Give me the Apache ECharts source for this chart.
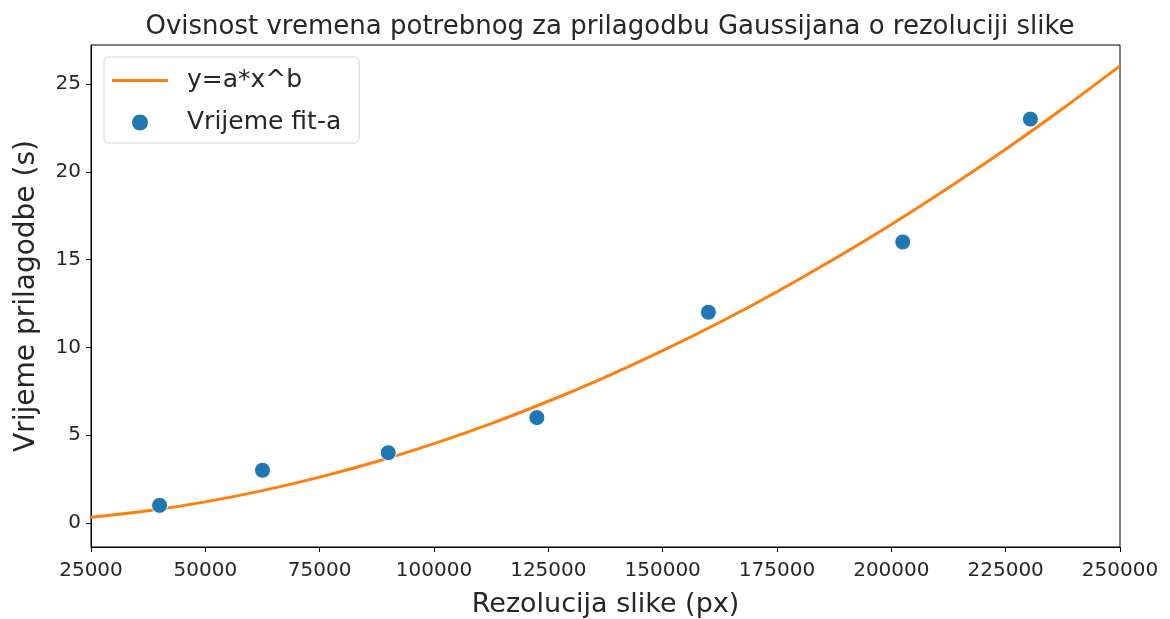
<!DOCTYPE html>
<html>
<head>
<meta charset="utf-8">
<script src="https://cdn.jsdelivr.net/npm/echarts@6/dist/echarts.min.js"></script>
<style>
  html, body { margin: 0; padding: 0; background: #fff; }
  #chart { width: 1170px; height: 619px; }
</style>
</head>
<body>
<div id="chart"></div>
<script>
// Measured fit times per image size (pixels) and the fitted power-law curve y=a*x^b
const resolutions = [40000, 62500, 90000, 122500, 160000, 202500, 230400];
const fitTimes = [1, 3, 4, 6, 12, 16, 23];

const curveX = [25000, 37500, 50000, 62500, 75000, 87500, 100000, 112500, 125000, 137500,
                150000, 162500, 175000, 187500, 200000, 212500, 225000, 237500, 250000];
const curveY = [0.32, 0.69, 1.20, 1.84, 2.61, 3.50, 4.52, 5.66, 6.93, 8.31,
                9.81, 11.43, 13.17, 15.03, 17.00, 19.09, 21.28, 23.60, 26.03];

const xTicks = [25000, 50000, 75000, 100000, 125000, 150000, 175000, 200000, 225000, 250000];
const yTicks = [0, 5, 10, 15, 20, 25];

const FONT = 'DejaVu Sans';
const TXT = '#262626';
const ORANGE = '#ff7f0e';
const BLUE = '#1f77b4';

const chart = echarts.init(document.getElementById('chart'), null, { renderer: 'canvas' });

chart.setOption({
  animation: false,
  backgroundColor: '#ffffff',
  textStyle: { fontFamily: FONT },
  title: {
    text: 'Ovisnost vremena potrebnog za prilagodbu Gaussijana o rezoluciji slike',
    left: 605,
    textAlign: 'center',
    top: 9,
    textStyle: { fontFamily: FONT, fontSize: 26, fontWeight: 'normal', color: TXT }
  },
  legend: {
    orient: 'vertical',
    left: 104,
    top: 57,
    padding: [11, 18, 8, 8],
    itemGap: 17,
    itemWidth: 56,
    itemHeight: 16,
    borderColor: '#d6d6d6',
    borderWidth: 1,
    borderRadius: 5,
    backgroundColor: 'rgba(255,255,255,0.8)',
    textStyle: { fontFamily: FONT, fontSize: 25, color: TXT, padding: [0, 0, 0, 14] },
    data: [
      { name: 'y=a*x^b', icon: 'path://M0,0H56V3H0Z', itemStyle: { color: ORANGE }, lineStyle: { width: 0 } },
      { name: 'Vrijeme fit-a', icon: 'circle', itemStyle: { color: BLUE, borderWidth: 0 } }
    ]
  },
  grid: {
    left: 91,
    right: 50,
    top: 45,
    bottom: 72,
    show: true,
    borderColor: '#000',
    borderWidth: 1,
    containLabel: false,
    outerBoundsMode: 'none'
  },
  xAxis: {
    type: 'value',
    min: xTicks[0],
    max: xTicks[xTicks.length - 1],
    interval: 25000,
    name: 'Rezolucija slike (px)',
    nameLocation: 'middle',
    nameGap: 44,
    nameTextStyle: { fontFamily: FONT, fontSize: 27, color: TXT },
    axisLine: { show: true, onZero: false, lineStyle: { color: '#000', width: 1 } },
    axisTick: { show: true, length: 5, inside: false, lineStyle: { color: '#000' } },
    axisLabel: { fontFamily: FONT, fontSize: 20, color: TXT, margin: 14, formatter: v => String(v) },
    splitLine: { show: false }
  },
  yAxis: {
    type: 'value',
    min: -1.37,
    max: 27.22,
    name: 'Vrijeme prilagodbe (s)',
    nameLocation: 'middle',
    nameGap: 50,
    nameTextStyle: { fontFamily: FONT, fontSize: 28, color: TXT },
    axisLine: { show: true, onZero: false, lineStyle: { color: '#000', width: 1 } },
    axisTick: { show: true, length: 5, customValues: yTicks, lineStyle: { color: '#000' } },
    axisLabel: { fontFamily: FONT, fontSize: 20, color: TXT, margin: 10, customValues: yTicks },
    splitLine: { show: false }
  },
  series: [
    {
      name: 'y=a*x^b',
      type: 'line',
      data: curveX.map((x, i) => [x, curveY[i]]),
      smooth: 0.3,
      symbol: 'none',
      showSymbol: false,
      lineStyle: { color: ORANGE, width: 3 },
      itemStyle: { color: ORANGE },
      z: 2
    },
    {
      name: 'Vrijeme fit-a',
      type: 'scatter',
      data: resolutions.map((x, i) => [x, fitTimes[i]]),
      symbol: 'circle',
      symbolSize: 16,
      itemStyle: { color: BLUE, opacity: 1, borderColor: '#ffffff', borderWidth: 1 },
      z: 3
    }
  ]
});
</script>
</body>
</html>
